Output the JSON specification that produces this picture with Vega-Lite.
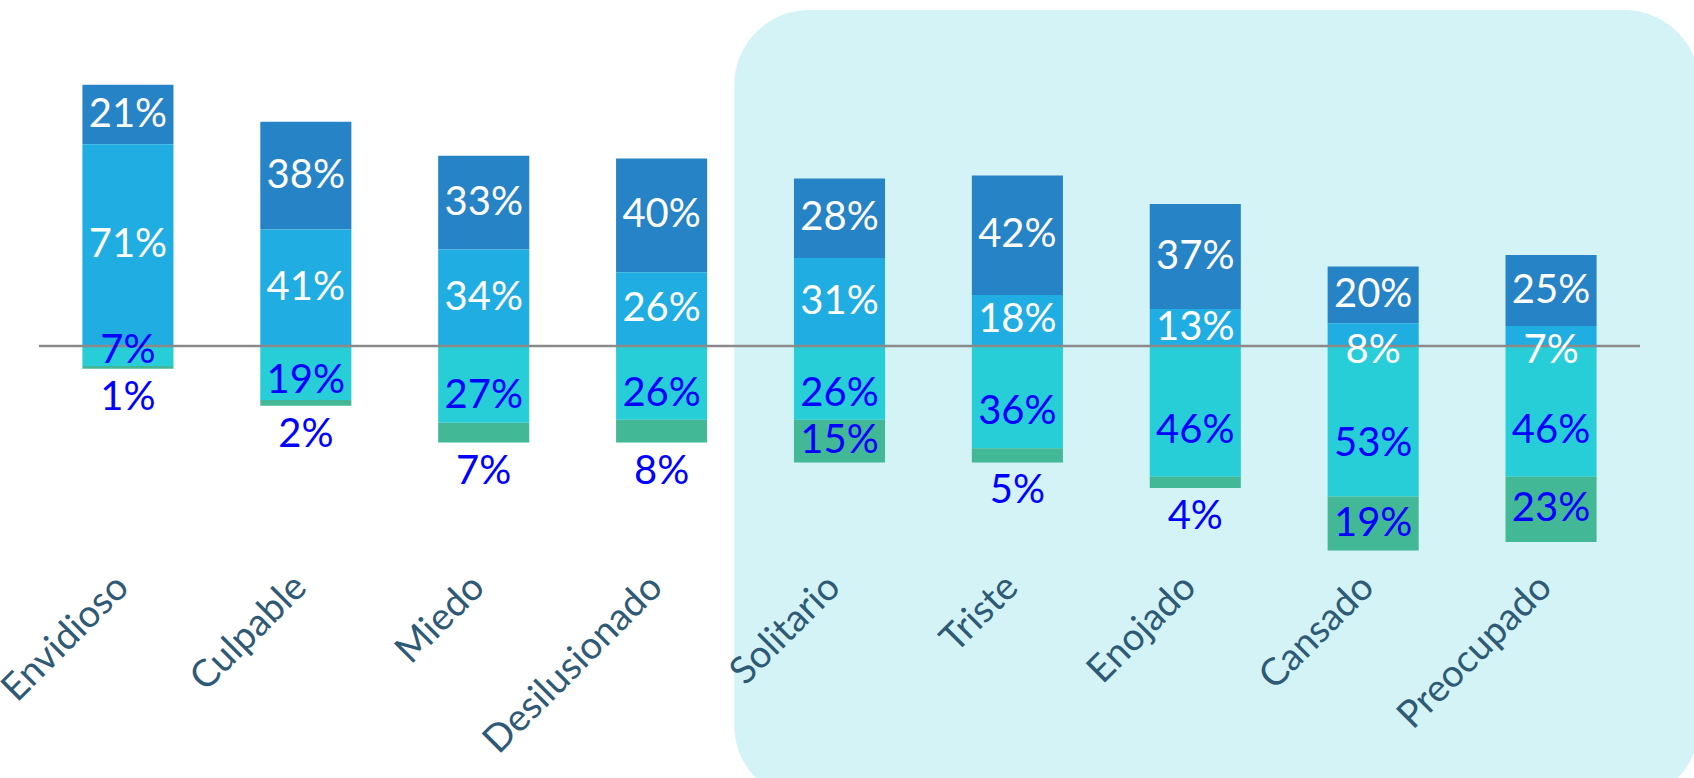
{
  "$schema": "https://vega.github.io/schema/vega-lite/v6.json",
  "width": 1601,
  "height": 511.2,
  "autosize": {"type": "none"},
  "padding": {"left": 39, "top": 62, "right": 54, "bottom": 204.8},
  "background": "white",
  "config": {"view": {"stroke": null}, "font": "Lato"},
  "data": {
    "values": [
      {"emotion": "Envidioso", "series": "Mucho", "value": 21, "label": "21%"},
      {"emotion": "Envidioso", "series": "Algo", "value": 71, "label": "71%"},
      {"emotion": "Envidioso", "series": "Casi nada", "value": -7, "label": "7%"},
      {"emotion": "Envidioso", "series": "Nada", "value": -1, "label": "1%"},
      {"emotion": "Culpable", "series": "Mucho", "value": 38, "label": "38%"},
      {"emotion": "Culpable", "series": "Algo", "value": 41, "label": "41%"},
      {"emotion": "Culpable", "series": "Casi nada", "value": -19, "label": "19%"},
      {"emotion": "Culpable", "series": "Nada", "value": -2, "label": "2%"},
      {"emotion": "Miedo", "series": "Mucho", "value": 33, "label": "33%"},
      {"emotion": "Miedo", "series": "Algo", "value": 34, "label": "34%"},
      {"emotion": "Miedo", "series": "Casi nada", "value": -27, "label": "27%"},
      {"emotion": "Miedo", "series": "Nada", "value": -7, "label": "7%"},
      {"emotion": "Desilusionado", "series": "Mucho", "value": 40, "label": "40%"},
      {"emotion": "Desilusionado", "series": "Algo", "value": 26, "label": "26%"},
      {"emotion": "Desilusionado", "series": "Casi nada", "value": -26, "label": "26%"},
      {"emotion": "Desilusionado", "series": "Nada", "value": -8, "label": "8%"},
      {"emotion": "Solitario", "series": "Mucho", "value": 28, "label": "28%"},
      {"emotion": "Solitario", "series": "Algo", "value": 31, "label": "31%"},
      {"emotion": "Solitario", "series": "Casi nada", "value": -26, "label": "26%"},
      {"emotion": "Solitario", "series": "Nada", "value": -15, "label": "15%"},
      {"emotion": "Triste", "series": "Mucho", "value": 42, "label": "42%"},
      {"emotion": "Triste", "series": "Algo", "value": 18, "label": "18%"},
      {"emotion": "Triste", "series": "Casi nada", "value": -36, "label": "36%"},
      {"emotion": "Triste", "series": "Nada", "value": -5, "label": "5%"},
      {"emotion": "Enojado", "series": "Mucho", "value": 37, "label": "37%"},
      {"emotion": "Enojado", "series": "Algo", "value": 13, "label": "13%"},
      {"emotion": "Enojado", "series": "Casi nada", "value": -46, "label": "46%"},
      {"emotion": "Enojado", "series": "Nada", "value": -4, "label": "4%"},
      {"emotion": "Cansado", "series": "Mucho", "value": 20, "label": "20%"},
      {"emotion": "Cansado", "series": "Algo", "value": 8, "label": "8%"},
      {"emotion": "Cansado", "series": "Casi nada", "value": -53, "label": "53%"},
      {"emotion": "Cansado", "series": "Nada", "value": -19, "label": "19%"},
      {"emotion": "Preocupado", "series": "Mucho", "value": 25, "label": "25%"},
      {"emotion": "Preocupado", "series": "Algo", "value": 7, "label": "7%"},
      {"emotion": "Preocupado", "series": "Casi nada", "value": -46, "label": "46%"},
      {"emotion": "Preocupado", "series": "Nada", "value": -23, "label": "23%"}
    ]
  },
  "layer": [
    {
      "transform": [{"filter": "datum.emotion === 'Enojado' && datum.series === 'Mucho'"}],
      "mark": {"type": "rect", "color": "#D3F3F6", "cornerRadius": 75, "width": 965, "xOffset": 21.5},
      "encoding": {
        "x": {"field": "emotion", "type": "nominal", "sort": null},
        "y": {"datum": 118.3, "type": "quantitative", "axis": null},
        "y2": {"datum": -160}
      }
    },
    {
      "mark": {"type": "bar"},
      "encoding": {
        "x": {
          "field": "emotion", "type": "nominal", "sort": null,
          "scale": {"domain": ["Envidioso", "Culpable", "Miedo", "Desilusionado", "Solitario", "Triste", "Enojado", "Cansado", "Preocupado"], "paddingInner": 0.488, "paddingOuter": 0.244},
          "axis": {"title": null, "labelAngle": -45, "labelFontSize": 38, "labelFont": "Lato", "labelColor": "#2F5A76", "labelLimit": 0, "ticks": false, "domain": false, "grid": false, "labelPadding": 8, "labelOffset": -5}
        },
        "y": {
          "field": "value", "type": "quantitative", "stack": "zero",
          "scale": {"domain": [-80, 100], "nice": false, "zero": true},
          "axis": null
        },
        "color": {
          "field": "series", "type": "nominal",
          "scale": {"domain": ["Mucho", "Algo", "Casi nada", "Nada"], "range": ["#2683C6", "#1FADE2", "#27CDD7", "#43B896"]},
          "legend": null
        },
        "order": {"field": "series", "type": "nominal"}
      }
    },
    {
      "transform": [{"filter": "datum.emotion === 'Envidioso' && datum.series === 'Mucho'"}],
      "mark": {"type": "rule", "color": "#8A8A8A", "strokeWidth": 2.5},
      "encoding": {"y": {"datum": 0, "type": "quantitative", "axis": null}}
    },
    {
      "mark": {"type": "text", "fontSize": 40, "font": "Lato", "baseline": "middle", "align": "center"},
      "encoding": {
        "x": {"field": "emotion", "type": "nominal", "sort": null},
        "y": {"field": "value", "type": "quantitative", "stack": "zero", "bandPosition": 0.5, "axis": null},
        "detail": {"field": "series", "type": "nominal"},
        "order": {"field": "series", "type": "nominal"},
        "text": {"field": "label", "type": "nominal"},
        "opacity": {"condition": {"test": "datum.series === 'Mucho' || (datum.series === 'Algo' && datum.value >= 10) || (datum.series === 'Nada' && datum.value <= -10)", "value": 1}, "value": 0},
        "color": {"condition": {"test": "datum.value > 0", "value": "#FFFFFF"}, "value": "#0000FF"}
      }
    },
    {
      "mark": {"type": "text", "fontSize": 40, "font": "Lato", "baseline": "middle", "align": "center", "color": "#0000FF"},
      "encoding": {
        "x": {"field": "emotion", "type": "nominal", "sort": null},
        "y": {"field": "value", "type": "quantitative", "stack": "zero", "bandPosition": 0.65, "axis": null},
        "detail": {"field": "series", "type": "nominal"},
        "order": {"field": "series", "type": "nominal"},
        "text": {"field": "label", "type": "nominal"},
        "opacity": {"condition": {"test": "datum.series === 'Casi nada' && datum.value <= -10", "value": 1}, "value": 0}
      }
    },
    {
      "mark": {"type": "text", "fontSize": 40, "font": "Lato", "baseline": "middle", "align": "center", "dy": 5},
      "encoding": {
        "x": {"field": "emotion", "type": "nominal", "sort": null},
        "y": {"field": "value", "type": "quantitative", "stack": "zero", "bandPosition": 0, "axis": null},
        "detail": {"field": "series", "type": "nominal"},
        "order": {"field": "series", "type": "nominal"},
        "text": {"field": "label", "type": "nominal"},
        "opacity": {"condition": {"test": "(datum.series === 'Algo' && datum.value < 10) || (datum.series === 'Casi nada' && datum.value > -10)", "value": 1}, "value": 0},
        "color": {"condition": {"test": "datum.value > 0", "value": "#FFFFFF"}, "value": "#0000FF"}
      }
    },
    {
      "mark": {"type": "text", "fontSize": 40, "font": "Lato", "baseline": "middle", "align": "center", "dy": 29, "color": "#0000FF"},
      "encoding": {
        "x": {"field": "emotion", "type": "nominal", "sort": null},
        "y": {"field": "value", "type": "quantitative", "stack": "zero", "bandPosition": 1, "axis": null},
        "detail": {"field": "series", "type": "nominal"},
        "order": {"field": "series", "type": "nominal"},
        "text": {"field": "label", "type": "nominal"},
        "opacity": {"condition": {"test": "datum.series === 'Nada' && datum.value > -10", "value": 1}, "value": 0}
      }
    }
  ]
}
